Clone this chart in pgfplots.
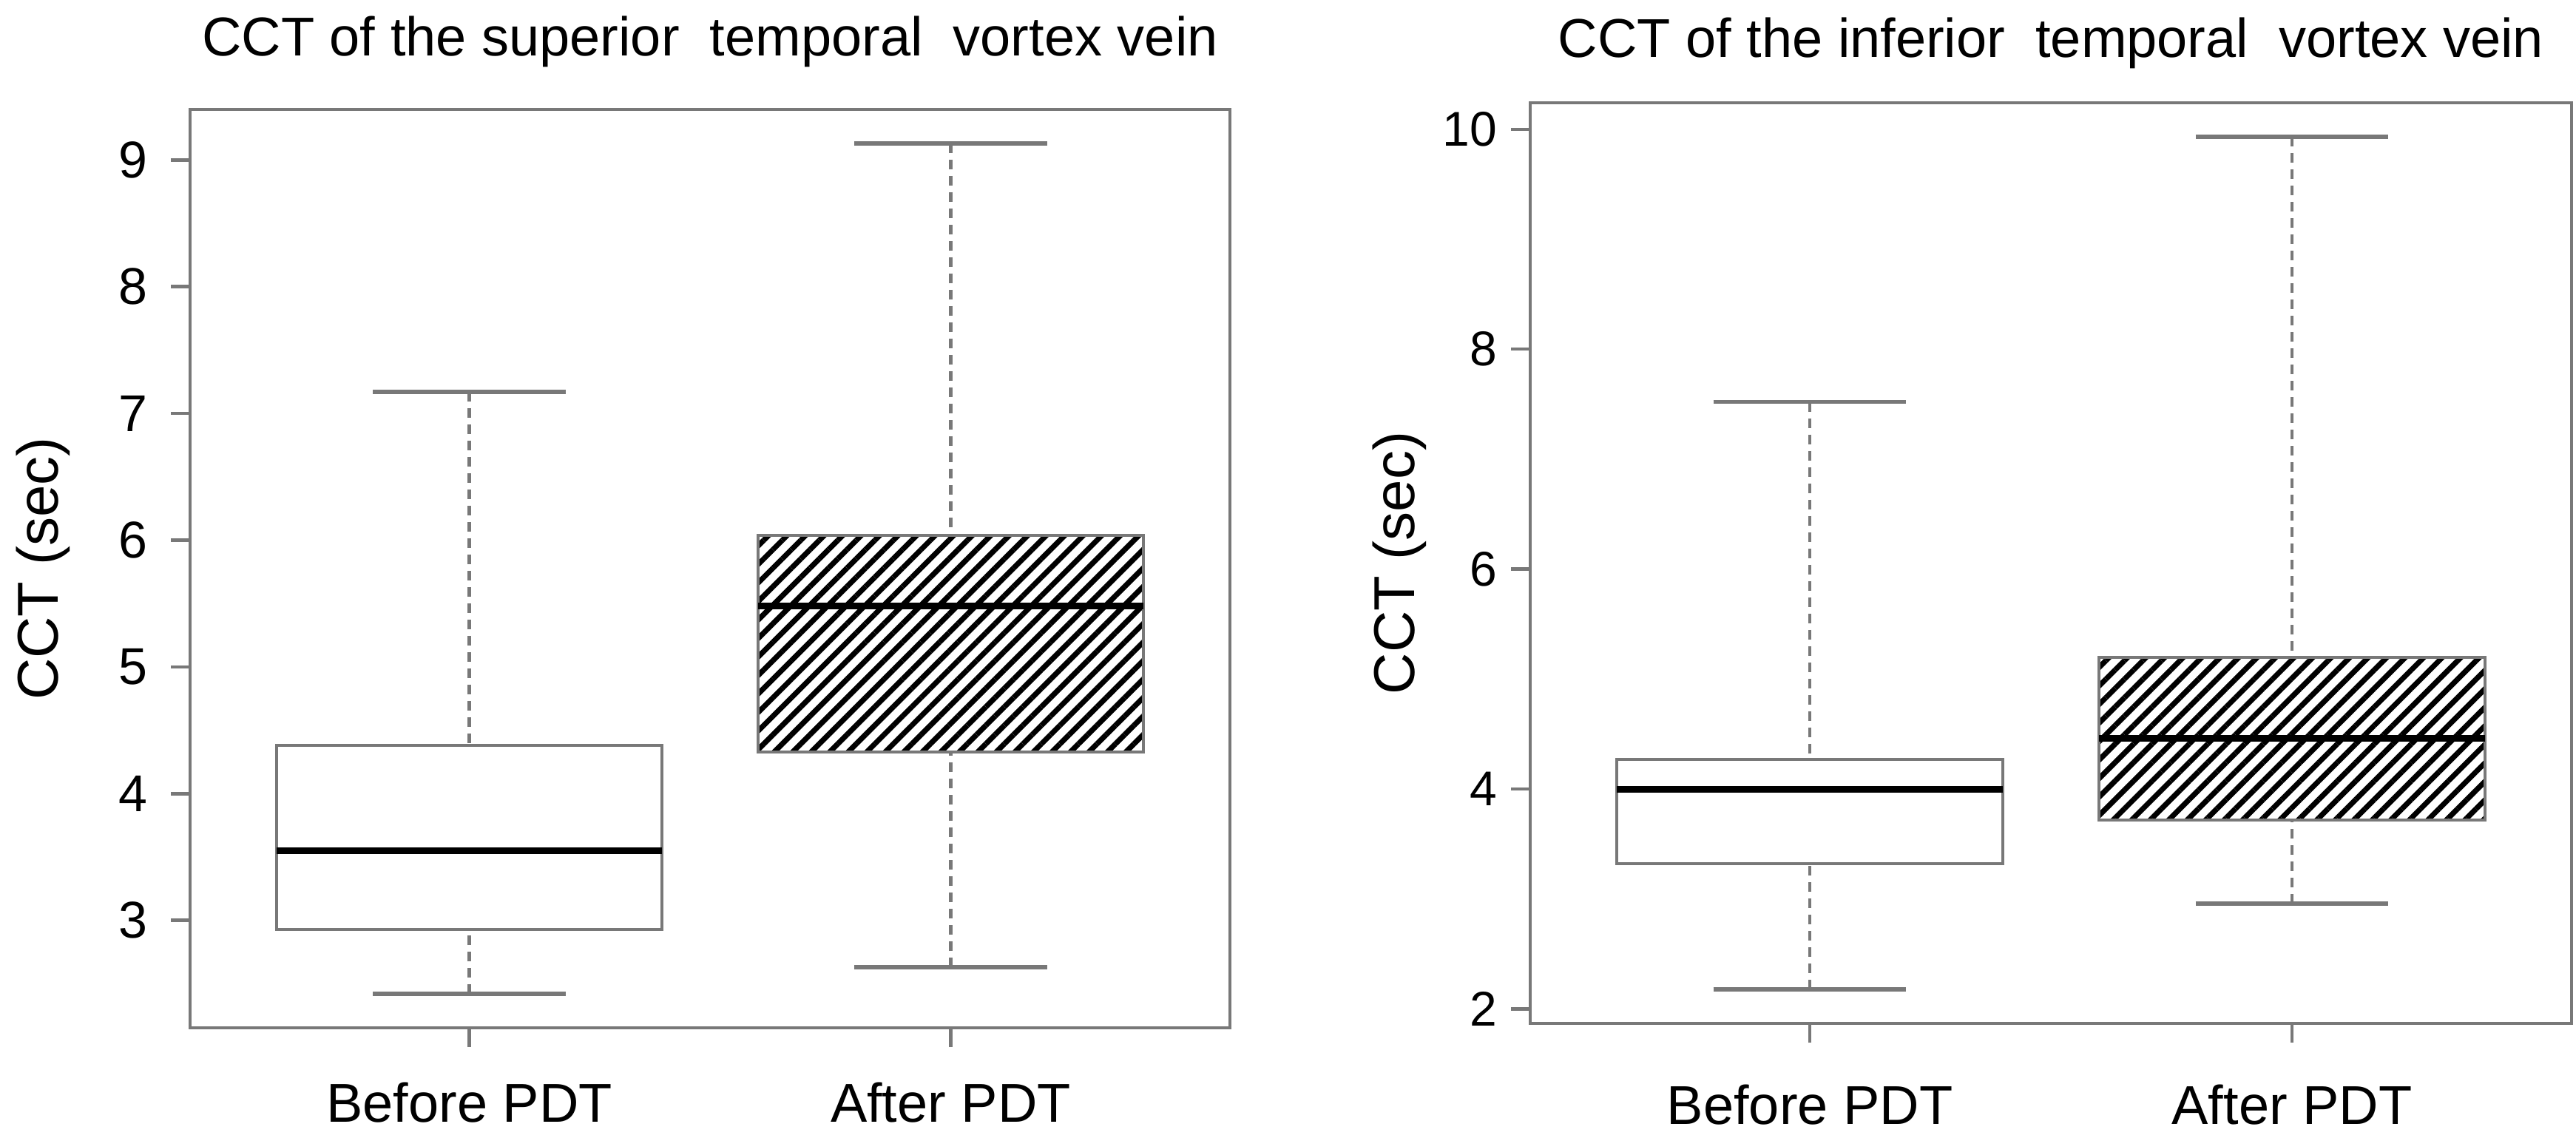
\documentclass[border=0pt]{standalone}
\usepackage{fontspec}
\setmainfont{Liberation Sans}
\usepackage{pgfplots}
\pgfplotsset{compat=1.18}
\usepgfplotslibrary{statistics}
\usetikzlibrary{patterns.meta}
\definecolor{axgray}{gray}{0.47}
\pgfplotsset{
  rbox/.style={
    scale only axis,
    xmin=0.42, xmax=2.58,
    xtick={1,2},
    xticklabels={Before PDT, After PDT},
    tick pos=left,
    tick align=outside,
    major tick length=2.6pt,
    tick style={axgray, line width=0.45pt},
    axis line style={axgray, line width=0.45pt},
    /pgf/number format/assume math mode=true,
    boxplot/draw direction=y,
    boxplot/box extend=0.8,
    boxplot/whisker extend=0.4,
    boxplot/every box/.style={draw=axgray, line width=0.4pt},
    boxplot/every median/.style={draw=black, line width=0.9pt},
    boxplot/every whisker/.style={draw=axgray, line width=0.45pt},
    boxplot/draw/lower whisker/.code={%
      \draw[/pgfplots/boxplot/every whisker/.try, dash pattern=on 1.3pt off 0.9pt]
        (boxplot cs:\pgfplotsboxplotvalue{lower whisker}) -- (boxplot cs:\pgfplotsboxplotvalue{lower quartile});
      \draw[/pgfplots/boxplot/every whisker/.try, line width=0.55pt]
        (boxplot whisker cs:\pgfplotsboxplotvalue{lower whisker},0) -- (boxplot whisker cs:\pgfplotsboxplotvalue{lower whisker},1);
    },
    boxplot/draw/upper whisker/.code={%
      \draw[/pgfplots/boxplot/every whisker/.try, dash pattern=on 1.3pt off 0.9pt]
        (boxplot cs:\pgfplotsboxplotvalue{upper whisker}) -- (boxplot cs:\pgfplotsboxplotvalue{upper quartile});
      \draw[/pgfplots/boxplot/every whisker/.try, line width=0.55pt]
        (boxplot whisker cs:\pgfplotsboxplotvalue{upper whisker},0) -- (boxplot whisker cs:\pgfplotsboxplotvalue{upper whisker},1);
    },
    xticklabel style={font=\fontsize{7.4pt}{8pt}\selectfont, anchor=base},
    yticklabel style={anchor=east, inner sep=0pt},
    ylabel={CCT (sec)},
  },
  hatched/.style={boxplot/every box/.append style={pattern={Lines[angle=45,distance=1.77pt,line width=0.72pt]}}},
}
\begin{document}
\begin{tikzpicture}
\useasboundingbox (0,0) rectangle (348.3pt,153.8pt);
% Left panel
\begin{axis}[rbox,
  at={(25.7pt,14.8pt)}, anchor=south west,
  width=140.6pt, height=124.2pt,
  ymin=2.152, ymax=9.398,
  ytick={3,4,5,6,7,8,9},
  title={CCT of the superior\ \ temporal\ \ vortex vein},
  every axis title/.style={at={(0.5,1)}, anchor=base, yshift=7.3pt, font=\fontsize{7.4pt}{8pt}\selectfont},
  xticklabel style={yshift=-10.1pt},
  yticklabel style={font=\fontsize{7pt}{8pt}\selectfont, xshift=-3.0pt},
  ylabel style={font=\fontsize{7.8pt}{9pt}\selectfont, at={(axis description cs:-0.1266,0.5)}, anchor=base},
]
\addplot[draw=axgray, boxplot prepared={lower whisker=2.42, lower quartile=2.93, median=3.55, upper quartile=4.38, upper whisker=7.17, draw position=1}] coordinates {};
\addplot[draw=axgray, hatched, boxplot prepared={lower whisker=2.63, lower quartile=4.33, median=5.48, upper quartile=6.04, upper whisker=9.13, draw position=2}] coordinates {};
\end{axis}
% Right panel
\begin{axis}[rbox,
  at={(206.9pt,15.4pt)}, anchor=south west,
  width=140.8pt, height=124.5pt,
  ymin=1.87, ymax=10.24,
  ytick={2,4,6,8,10},
  title={CCT of the inferior\ \ temporal\ \ vortex vein},
  every axis title/.style={at={(0.5,1)}, anchor=base, yshift=6.2pt, font=\fontsize{7.4pt}{8pt}\selectfont},
  xticklabel style={yshift=-11.0pt},
  yticklabel style={font=\fontsize{6.6pt}{8pt}\selectfont, xshift=-1.7pt},
  ylabel style={font=\fontsize{7.8pt}{9pt}\selectfont, at={(axis description cs:-0.1115,0.5)}, anchor=base},
]
\addplot[draw=axgray, boxplot prepared={lower whisker=2.18, lower quartile=3.32, median=4.00, upper quartile=4.27, upper whisker=7.52, draw position=1}] coordinates {};
\addplot[draw=axgray, hatched, boxplot prepared={lower whisker=2.96, lower quartile=3.72, median=4.46, upper quartile=5.20, upper whisker=9.93, draw position=2}] coordinates {};
\end{axis}
\end{tikzpicture}
\end{document}
